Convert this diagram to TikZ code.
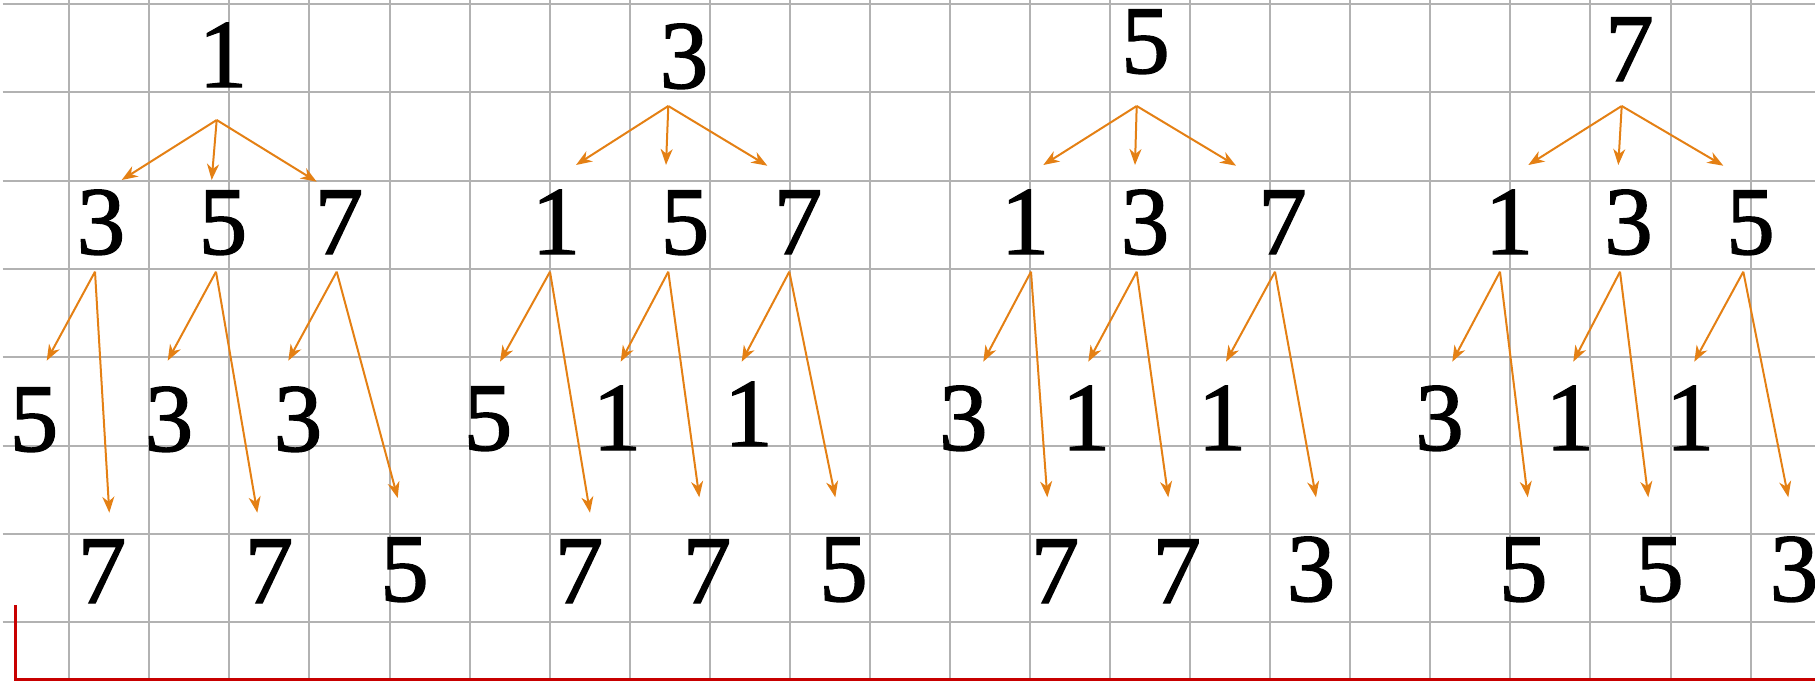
\documentclass[tikz,border=0pt]{standalone}
\usepackage{fontspec}
\setmainfont{Liberation Serif}
\newfontfamily\numfont{Liberation Serif}[FakeBold=1.5]
\usetikzlibrary{arrows.meta}
\definecolor{gridgray}{RGB}{178,178,178}
\definecolor{arrorange}{RGB}{228,128,20}
\definecolor{redline}{RGB}{200,0,0}
\newcommand{\dg}[1]{{\numfont\fontsize{97}{97}\selectfont #1}}
\begin{document}
\begin{tikzpicture}[x=1pt,y=-1pt,
  num/.style={inner sep=0pt, anchor=base},
  arr/.style={draw=arrorange, line width=2pt, -{Stealth[length=16pt,width=12pt,inset=5pt]}},
  gridline/.style={draw=gridgray, line width=2pt},
  redframe/.style={draw=redline, line width=3pt}]
\useasboundingbox (0,0) rectangle (1815,681);
% grid
\foreach \k in {0,...,21} \draw[gridline] ({69.3+80.06*\k},0) -- ({69.3+80.06*\k},681);
\foreach \k in {0,...,7} \draw[gridline] (2.7,{4+88.3*\k}) -- (1815,{4+88.3*\k});
\draw[redframe] (15,605) -- (15,679.5) -- (1815,679.5);

% ---------- tree 1 ----------
\node[num] (a0) at (223,87) {\dg{1}};
\node[num] (a1) at (101,254) {\dg{3}};
\node[num] (a2) at (223,254) {\dg{5}};
\node[num] (a3) at (339,254) {\dg{7}};
\node[num] (a11) at (34,451) {\dg{5}};
\node[num] (a21) at (169,451) {\dg{3}};
\node[num] (a31) at (298,451) {\dg{3}};
\node[num] (a12) at (102,603) {\dg{7}};
\node[num] (a22) at (269,603) {\dg{7}};
\node[num] (a32) at (404.5,601) {\dg{5}};
\coordinate (as) at (216.7,120);
\coordinate (ae1) at (121.7,180);
\coordinate (ae2) at (211.7,180);
\coordinate (ae3) at (316.7,181.7);
\coordinate (as1) at (95,271.7);
\coordinate (as2) at (216,271.7);
\coordinate (as3) at (336.7,271.7);
\coordinate (al1) at (46.7,360.7);
\coordinate (al2) at (167.7,360.7);
\coordinate (al3) at (288.3,360.7);
\coordinate (ar1) at (109.3,512.7);
\coordinate (ar2) at (257.3,512.7);
\coordinate (ar3) at (397.7,498);
\draw[arr] (as) -- (ae1);
\draw[arr] (as) -- (ae2);
\draw[arr] (as) -- (ae3);
\draw[arr] (as1) -- (al1);
\draw[arr] (as1) -- (ar1);
\draw[arr] (as2) -- (al2);
\draw[arr] (as2) -- (ar2);
\draw[arr] (as3) -- (al3);
\draw[arr] (as3) -- (ar3);

% ---------- tree 2 ----------
\node[num] (b0) at (684,88) {\dg{3}};
\node[num] (b1) at (556,254) {\dg{1}};
\node[num] (b2) at (685,254) {\dg{5}};
\node[num] (b3) at (798,254) {\dg{7}};
\node[num] (b11) at (488,450) {\dg{5}};
\node[num] (b21) at (617,450) {\dg{1}};
\node[num] (b31) at (748.5,446) {\dg{1}};
\node[num] (b12) at (579,603) {\dg{7}};
\node[num] (b22) at (707,603) {\dg{7}};
\node[num] (b32) at (843.5,601) {\dg{5}};
\coordinate (bs) at (668.3,106);
\coordinate (be1) at (576,165);
\coordinate (be2) at (666,165);
\coordinate (be3) at (767.3,165.7);
\coordinate (bs1) at (550,271.7);
\coordinate (bs2) at (668.3,271.7);
\coordinate (bs3) at (789.3,271.7);
\coordinate (bl1) at (500,361.7);
\coordinate (bl2) at (620.7,361.7);
\coordinate (bl3) at (741.7,361.7);
\coordinate (br1) at (590,512.7);
\coordinate (br2) at (699.3,497.3);
\coordinate (br3) at (835.3,497.3);
\draw[arr] (bs) -- (be1);
\draw[arr] (bs) -- (be2);
\draw[arr] (bs) -- (be3);
\draw[arr] (bs1) -- (bl1);
\draw[arr] (bs1) -- (br1);
\draw[arr] (bs2) -- (bl2);
\draw[arr] (bs2) -- (br2);
\draw[arr] (bs3) -- (bl3);
\draw[arr] (bs3) -- (br3);

% ---------- tree 3 ----------
\node[num] (c0) at (1145.5,73) {\dg{5}};
\node[num] (c1) at (1025,254) {\dg{1}};
\node[num] (c2) at (1145,254) {\dg{3}};
\node[num] (c3) at (1282.5,254) {\dg{7}};
\node[num] (c11) at (963.3,450) {\dg{3}};
\node[num] (c21) at (1086,450) {\dg{1}};
\node[num] (c31) at (1222,450) {\dg{1}};
\node[num] (c12) at (1055,603) {\dg{7}};
\node[num] (c22) at (1176.7,603) {\dg{7}};
\node[num] (c32) at (1311,601) {\dg{3}};
\coordinate (cs) at (1136.7,106);
\coordinate (ce1) at (1043.3,165);
\coordinate (ce2) at (1135,165);
\coordinate (ce3) at (1236,165.7);
\coordinate (cs1) at (1031,271.7);
\coordinate (cs2) at (1136.7,271.7);
\coordinate (cs3) at (1275,271.7);
\coordinate (cl1) at (983.3,361.7);
\coordinate (cl2) at (1088.3,361.7);
\coordinate (cl3) at (1226,361.7);
\coordinate (cr1) at (1047.3,497.3);
\coordinate (cr2) at (1168.3,497.3);
\coordinate (cr3) at (1316,497.3);
\draw[arr] (cs) -- (ce1);
\draw[arr] (cs) -- (ce2);
\draw[arr] (cs) -- (ce3);
\draw[arr] (cs1) -- (cl1);
\draw[arr] (cs1) -- (cr1);
\draw[arr] (cs2) -- (cl2);
\draw[arr] (cs2) -- (cr2);
\draw[arr] (cs3) -- (cl3);
\draw[arr] (cs3) -- (cr3);

% ---------- tree 4 ----------
\node[num] (d0) at (1629.5,81) {\dg{7}};
\node[num] (d1) at (1509,254) {\dg{1}};
\node[num] (d2) at (1628.5,254) {\dg{3}};
\node[num] (d3) at (1750.5,254) {\dg{5}};
\node[num] (d11) at (1439.5,450) {\dg{3}};
\node[num] (d21) at (1569.7,450) {\dg{1}};
\node[num] (d31) at (1690,450) {\dg{1}};
\node[num] (d12) at (1523.3,601) {\dg{5}};
\node[num] (d22) at (1659.5,601) {\dg{5}};
\node[num] (d32) at (1794,601) {\dg{3}};
\coordinate (ds) at (1621.7,106);
\coordinate (de1) at (1528.3,165);
\coordinate (de2) at (1618.3,165);
\coordinate (de3) at (1723.3,165.7);
\coordinate (ds1) at (1500,271.7);
\coordinate (ds2) at (1620,271.7);
\coordinate (ds3) at (1743.3,271.7);
\coordinate (dl1) at (1452.3,361.7);
\coordinate (dl2) at (1573.3,361.7);
\coordinate (dl3) at (1694.3,361.7);
\coordinate (dr1) at (1527.7,497.3);
\coordinate (dr2) at (1648.3,497.3);
\coordinate (dr3) at (1788.3,497.3);
\draw[arr] (ds) -- (de1);
\draw[arr] (ds) -- (de2);
\draw[arr] (ds) -- (de3);
\draw[arr] (ds1) -- (dl1);
\draw[arr] (ds1) -- (dr1);
\draw[arr] (ds2) -- (dl2);
\draw[arr] (ds2) -- (dr2);
\draw[arr] (ds3) -- (dl3);
\draw[arr] (ds3) -- (dr3);
\end{tikzpicture}
\end{document}
